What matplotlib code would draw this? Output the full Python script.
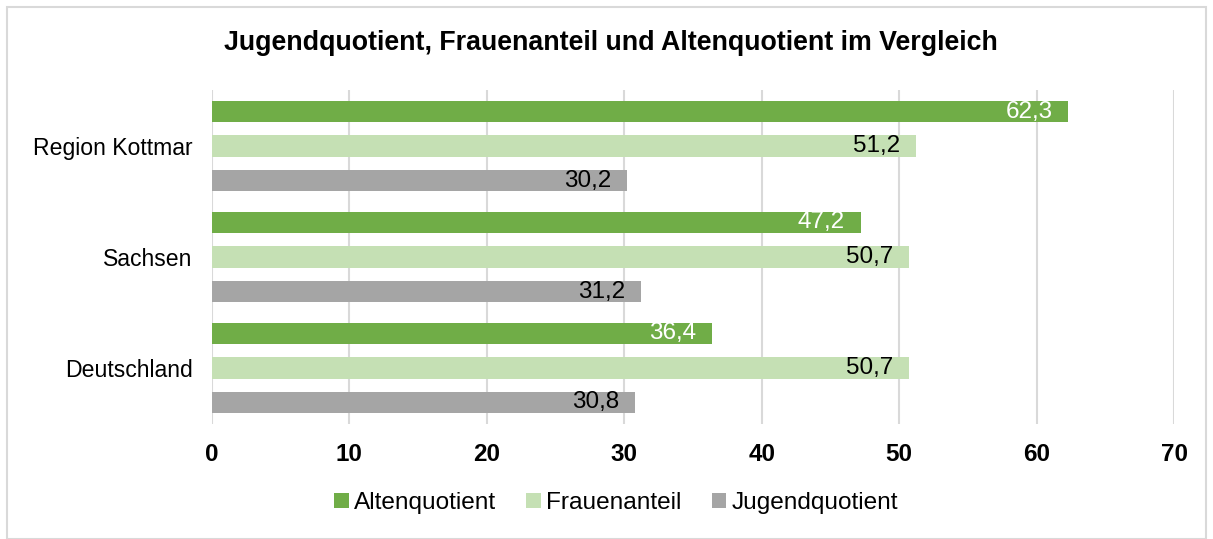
import matplotlib.pyplot as plt
import numpy as np
from matplotlib.patches import Rectangle

plt.rcParams['font.family'] = ['Liberation Sans', 'DejaVu Sans']

# Daten
regionen = ['Region Kottmar', 'Sachsen', 'Deutschland']
altenquotient = [62.3, 47.2, 36.4]
frauenanteil = [51.2, 50.7, 50.7]
jugendquotient = [30.2, 31.2, 30.8]
serien = ['Altenquotient', 'Frauenanteil', 'Jugendquotient']
farben = ['#70ad47', '#c5e0b4', '#a5a5a5']
label_farben = ['white', 'black', 'black']
x_ticks = [0, 10, 20, 30, 40, 50, 60, 70]

fig = plt.figure(figsize=(12.13, 5.39), dpi=100)
ax = fig.add_axes([212 / 1213, 1 - 424 / 539, (1174 - 212) / 1213, (424 - 90) / 539])

pos = np.arange(len(regionen))
offset = 0.311
hoehe = 0.19

for i, (werte, farbe, lf) in enumerate(zip([altenquotient, frauenanteil, jugendquotient], farben, label_farben)):
    y = pos + (i - 1) * offset
    bars = ax.barh(y, werte, height=hoehe, color=farbe, label=serien[i], zorder=3)
    for b, w in zip(bars, werte):
        ax.text(w - 1.15, b.get_y() + b.get_height() / 2, f'{w:.1f}'.replace('.', ','),
                ha='right', va='center', fontsize=17.5, color=lf, zorder=4)

ax.set_xlim(0, 70)
ax.set_ylim(2.505, -0.505)
ax.set_xticks(x_ticks)
ax.set_xticklabels([str(t) for t in x_ticks], fontsize=17.5, fontweight='bold')
ax.set_yticks(pos)
ax.set_yticklabels(regionen, fontsize=16.6)
ax.tick_params(axis='both', length=0)
ax.tick_params(axis='x', pad=14)
ax.tick_params(axis='y', pad=14)
ax.grid(axis='x', color='#d9d9d9', linewidth=1.5, zorder=0)
for s in ax.spines.values():
    s.set_visible(False)

fig.suptitle('Jugendquotient, Frauenanteil und Altenquotient im Vergleich',
             x=611 / 1213, y=1 - 43 / 539, va='center', fontsize=19.3, fontweight='bold')

fig.legend(loc='center', bbox_to_anchor=(616 / 1213, 1 - 503 / 539), ncol=3, frameon=False,
           fontsize=17.6, handlelength=0.6, handleheight=0.6, handletextpad=0.2, columnspacing=1.25)

# Rahmen
fig.patches.append(Rectangle((7 / 1213, 0.0), 1 - 14 / 1213, 1 - 7 / 539, transform=fig.transFigure,
                             fill=False, edgecolor='#d9d9d9', linewidth=1.5))

fig.savefig('out.png', dpi=100)
